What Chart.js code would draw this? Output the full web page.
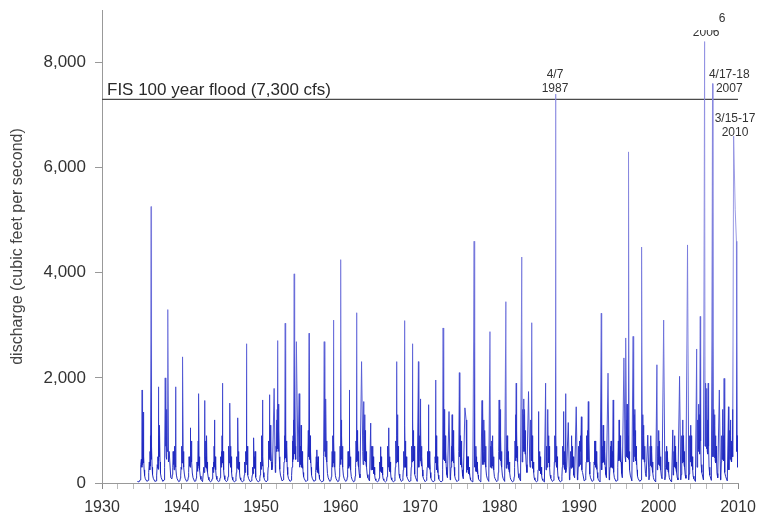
<!DOCTYPE html>
<html>
<head>
<meta charset="utf-8">
<script src="https://cdn.jsdelivr.net/npm/chart.js@4.4.1/dist/chart.umd.min.js"></script>
<style>
  html, body { margin: 0; padding: 0; background: #fff; }
</style>
</head>
<body>
<canvas id="flowChart" width="758" height="518"></canvas>
<script>
// sample times inside each calendar year (fraction of year)
const seasonOffsets = [0.01, 0.04, 0.07, 0.10, 0.13, 0.17, 0.21, 0.25,
  0.30, 0.36, 0.45, 0.65, 0.80, 0.85, 0.90, 0.95];

const years = [
  1934, 1935, 1936, 1937, 1938, 1939, 1940, 1941, 1942, 1943,
  1944, 1945, 1946, 1947, 1948, 1949, 1950, 1951, 1952, 1953,
  1954, 1955, 1956, 1957, 1958, 1959, 1960, 1961, 1962, 1963,
  1964, 1965, 1966, 1967, 1968, 1969, 1970, 1971, 1972, 1973,
  1974, 1975, 1976, 1977, 1978, 1979, 1980, 1981, 1982, 1983,
  1984, 1985, 1986, 1987, 1988, 1989, 1990, 1991, 1992, 1993,
  1994, 1995, 1996, 1997, 1998, 1999, 2000, 2001, 2002, 2003,
  2004, 2005, 2006, 2007, 2008, 2009
];

// discharge in cfs, one row per year, one value per season offset
const discharge = [
  [null, null, null, null, null, null, null, null, null, null, 30, 20, 60, 120, 350, 450],
  [300, 1770, 350, 700, 420, 1350, 380, 500, 250, 140, 80, 30, 50, 120, 200, 400],
  [250, 600, 320, 900, 380, 5260, 450, 700, 300, 160, 90, 30, 40, 100, 150, 350],
  [280, 500, 260, 1830, 420, 900, 500, 1100, 400, 180, 100, 30, 60, 150, 300, 2000],
  [700, 900, 500, 1400, 450, 700, 600, 1200, 3300, 400, 600, 100, 80, 160, 300, 600],
  [350, 400, 250, 700, 300, 500, 350, 1830, 300, 150, 80, 25, 40, 90, 150, 300],
  [260, 700, 380, 1100, 420, 2400, 480, 600, 300, 170, 90, 30, 50, 110, 200, 500],
  [320, 500, 300, 1050, 350, 600, 420, 800, 400, 190, 100, 30, 40, 90, 150, 400],
  [220, 400, 280, 800, 330, 1700, 300, 500, 250, 130, 70, 25, 300, 200, 1570, 500],
  [350, 800, 300, 500, 280, 900, 250, 400, 200, 110, 60, 20, 40, 80, 150, 300],
  [200, 400, 260, 700, 300, 1200, 330, 500, 250, 130, 70, 25, 40, 100, 200, 500],
  [300, 600, 350, 900, 400, 1900, 380, 600, 250, 140, 70, 25, 50, 120, 250, 700],
  [380, 800, 420, 1520, 350, 700, 300, 500, 200, 110, 60, 20, 40, 100, 200, 500],
  [280, 500, 300, 1240, 320, 600, 260, 400, 200, 100, 60, 20, 40, 80, 150, 400],
  [200, 300, 220, 600, 350, 2650, 420, 700, 400, 150, 80, 25, 40, 90, 150, 300],
  [180, 400, 240, 860, 300, 500, 280, 600, 250, 110, 60, 20, 40, 80, 150, 400],
  [260, 700, 380, 900, 400, 1580, 320, 500, 200, 110, 60, 20, 50, 150, 300, 800],
  [450, 1680, 500, 900, 480, 1100, 420, 600, 400, 250, 300, 1800, 200, 350, 700, 1200],
  [600, 1400, 700, 2710, 650, 1500, 600, 1000, 500, 260, 150, 40, 60, 180, 400, 900],
  [450, 3040, 550, 1200, 480, 800, 400, 700, 300, 160, 90, 30, 50, 140, 300, 800],
  [400, 900, 450, 1200, 500, 3980, 550, 1000, 700, 450, 2690, 400, 1700, 300, 500, 700],
  [350, 1100, 380, 700, 300, 600, 280, 400, 200, 120, 80, 25, 50, 150, 400, 1000],
  [500, 2850, 550, 1200, 450, 900, 380, 600, 300, 150, 90, 30, 50, 100, 200, 500],
  [250, 630, 200, 400, 220, 500, 180, 350, 150, 80, 50, 20, 40, 150, 500, 2690],
  [600, 1300, 500, 1000, 550, 1600, 450, 800, 400, 180, 100, 30, 50, 120, 300, 600],
  [300, 900, 380, 3100, 400, 800, 330, 600, 300, 140, 80, 25, 40, 120, 300, 700],
  [350, 4250, 500, 1200, 450, 900, 380, 700, 300, 150, 90, 30, 50, 110, 250, 600],
  [280, 600, 320, 1770, 350, 700, 300, 500, 250, 120, 70, 20, 40, 130, 300, 800],
  [400, 3240, 450, 1000, 420, 800, 350, 600, 300, 170, 100, 2310, 600, 350, 1550, 900],
  [450, 1300, 420, 1000, 400, 800, 350, 600, 300, 160, 100, 40, 1140, 250, 500, 700],
  [300, 700, 250, 500, 220, 400, 180, 300, 150, 80, 50, 20, 40, 90, 200, 400],
  [220, 690, 260, 500, 230, 400, 200, 300, 150, 80, 50, 20, 40, 120, 300, 700],
  [320, 1050, 300, 700, 260, 500, 220, 400, 200, 100, 60, 20, 40, 130, 300, 800],
  [380, 2310, 420, 900, 480, 1300, 400, 700, 400, 170, 100, 30, 50, 110, 250, 600],
  [300, 3090, 420, 1100, 380, 800, 300, 500, 250, 130, 80, 25, 40, 120, 300, 700],
  [400, 2650, 500, 1200, 450, 1000, 420, 700, 350, 170, 100, 30, 2310, 300, 600, 900],
  [420, 1600, 480, 1200, 400, 700, 320, 500, 250, 130, 80, 25, 50, 120, 300, 600],
  [300, 1490, 350, 800, 300, 600, 260, 400, 200, 100, 60, 20, 40, 180, 500, 1960],
  [380, 900, 300, 600, 250, 500, 200, 350, 150, 80, 50, 20, 40, 250, 2950, 1200],
  [450, 1400, 500, 1100, 420, 900, 380, 600, 300, 160, 100, 1360, 60, 130, 300, 700],
  [400, 1300, 420, 900, 450, 1000, 380, 700, 300, 140, 80, 25, 50, 200, 600, 2100],
  [500, 900, 380, 700, 350, 800, 300, 500, 250, 130, 80, 1430, 1200, 200, 300, 500],
  [250, 500, 200, 400, 180, 300, 150, 200, 100, 60, 40, 20, 4600, 300, 600, 400],
  [220, 700, 250, 500, 220, 400, 180, 300, 150, 80, 50, 20, 1570, 350, 1450, 600],
  [350, 1200, 400, 900, 420, 1000, 380, 700, 300, 150, 90, 30, 2880, 300, 700, 500],
  [280, 800, 350, 900, 320, 700, 280, 500, 250, 120, 80, 25, 50, 200, 600, 1580],
  [450, 1200, 500, 1400, 420, 900, 350, 600, 300, 150, 90, 30, 3450, 280, 600, 900],
  [350, 700, 300, 600, 260, 500, 220, 400, 200, 100, 60, 20, 40, 120, 300, 800],
  [420, 1300, 500, 1900, 480, 1000, 420, 700, 400, 180, 100, 40, 4300, 400, 900, 1400],
  [600, 1600, 650, 1300, 600, 1400, 550, 1000, 600, 350, 200, 1740, 400, 300, 900, 1200],
  [500, 3050, 420, 900, 350, 600, 280, 400, 200, 100, 60, 20, 40, 250, 1360, 600],
  [280, 600, 230, 500, 200, 400, 180, 300, 150, 80, 50, 20, 1900, 250, 700, 500],
  [300, 1400, 450, 1200, 420, 900, 380, 700, 300, 150, 90, 30, 50, 140, 400, 900],
  [400, 7400, 450, 900, 350, 700, 300, 500, 250, 120, 70, 20, 40, 130, 300, 700],
  [350, 1360, 380, 800, 300, 600, 260, 400, 1700, 200, 300, 1150, 60, 120, 300, 600],
  [280, 900, 350, 800, 330, 700, 300, 500, 300, 150, 100, 1450, 60, 130, 300, 700],
  [320, 800, 340, 700, 380, 900, 350, 600, 1260, 250, 200, 40, 60, 150, 400, 900],
  [400, 1000, 420, 900, 450, 1550, 400, 800, 400, 170, 100, 30, 50, 150, 400, 800],
  [350, 800, 330, 700, 300, 600, 260, 400, 200, 100, 60, 20, 3230, 250, 500, 700],
  [380, 1100, 420, 900, 400, 800, 350, 600, 300, 160, 100, 2090, 60, 130, 300, 700],
  [300, 800, 330, 700, 300, 600, 280, 500, 1580, 200, 100, 30, 50, 130, 300, 800],
  [420, 1200, 480, 1000, 450, 900, 400, 700, 400, 180, 100, 2380, 500, 400, 2760, 1200],
  [500, 1500, 550, 1200, 480, 900, 450, 6300, 600, 250, 150, 40, 2790, 400, 900, 1300],
  [500, 1400, 480, 1000, 420, 700, 350, 500, 250, 130, 80, 30, 60, 300, 4490, 900],
  [450, 1300, 500, 1100, 450, 900, 400, 700, 400, 180, 120, 910, 60, 130, 300, 700],
  [330, 900, 350, 700, 300, 600, 260, 400, 200, 100, 60, 20, 2250, 250, 500, 700],
  [350, 1000, 380, 800, 330, 700, 300, 500, 250, 130, 80, 3100, 60, 120, 300, 600],
  [260, 700, 280, 600, 250, 500, 220, 400, 200, 100, 60, 20, 1010, 150, 300, 600],
  [300, 900, 330, 700, 280, 600, 250, 400, 200, 100, 60, 2030, 60, 160, 400, 900],
  [380, 1200, 420, 900, 400, 800, 350, 600, 300, 150, 90, 4530, 60, 170, 400, 900],
  [400, 1100, 450, 900, 380, 700, 320, 500, 250, 130, 80, 30, 2550, 300, 600, 1200],
  [600, 1500, 650, 1300, 600, 1100, 550, 3170, 800, 350, 200, 60, 8400, 700, 1900, 1500],
  [700, 1800, 650, 1500, 600, 1200, 550, 1900, 700, 300, 150, 50, 7600, 500, 1000, 1400],
  [500, 1300, 480, 1100, 420, 900, 380, 700, 400, 180, 100, 1770, 60, 150, 400, 900],
  [450, 1400, 500, 1100, 450, 900, 420, 1990, 500, 200, 120, 40, 1450, 250, 600, 1000],
  [450, 1200, 500, 900, 420, 800, 400, 700, 1400, 500, 6600, 5200, 4600, 600, 900, 300]
];

const floodLevel = 7300;
const floodText = 'FIS 100 year flood (7,300 cfs)';

const xTicks = [1930, 1932, 1934, 1936, 1938, 1940, 1942, 1944, 1946, 1948,
  1950, 1952, 1954, 1956, 1958, 1960, 1962, 1964, 1966, 1968,
  1970, 1972, 1974, 1976, 1978, 1980, 1982, 1984, 1986, 1988,
  1990, 1992, 1994, 1996, 1998, 2000, 2002, 2004, 2006, 2008, 2010];
const yTicks = [0, 2000, 4000, 6000, 8000];

// peak annotations: text lines + where they sit (year, cfs of last line)
const peakNotes = [
  { lines: ['4/7', '1987'], year: 1986.98, cfs: 7505 },
  { lines: ['4/17-18', '2007'], year: 2008.9, cfs: 7505 },
  { lines: ['3/15-17', '2010'], year: 2009.62, cfs: 6670 }
];

const flowPoints = [];
years.forEach((yr, i) => {
  discharge[i].forEach((v, j) => {
    if (v !== null) flowPoints.push({ x: yr + seasonOffsets[j], y: v });
  });
});

const fontFamily = '"Liberation Sans", Arial, Helvetica, sans-serif';

// dark blue near the base, paler towards the tips of the spikes
function flowColour(context) {
  const area = context.chart.chartArea;
  if (!area) return 'rgb(40, 50, 200)';
  const g = context.chart.ctx.createLinearGradient(0, area.bottom, 0, area.top);
  g.addColorStop(0, 'rgba(20, 30, 185, 0.95)');
  g.addColorStop(0.12, 'rgba(40, 50, 200, 0.85)');
  g.addColorStop(0.3, 'rgba(90, 95, 215, 0.75)');
  g.addColorStop(0.6, 'rgba(125, 125, 220, 0.75)');
  g.addColorStop(1, 'rgba(140, 140, 225, 0.75)');
  return g;
}

const notesPlugin = {
  id: 'notes',
  afterDatasetsDraw(chart) {
    const c = chart.ctx;
    const xs = chart.scales.x;
    const ys = chart.scales.y;
    c.save();
    // flood line label
    c.fillStyle = '#2a2a2a';
    c.font = '17px ' + fontFamily;
    c.textAlign = 'left';
    c.textBaseline = 'alphabetic';
    c.fillText(floodText, xs.left + 5, ys.getPixelForValue(floodLevel) - 4);

    // peak labels
    c.font = '12px ' + fontFamily;
    c.fillStyle = '#333';
    c.textAlign = 'center';
    c.textBaseline = 'middle';
    peakNotes.forEach(n => {
      const px = xs.getPixelForValue(n.year);
      const py = ys.getPixelForValue(n.cfs);
      n.lines.forEach((t, k) => {
        c.fillText(t, px, py - (n.lines.length - 1 - k) * 14);
      });
    });

    // 2006 label, cut off at the top of the picture
    c.fillText('6', xs.getPixelForValue(2008.0), ys.getPixelForValue(8840));
    c.beginPath();
    c.rect(0, 30, chart.width, 20);
    c.clip();
    c.fillText('2006', xs.getPixelForValue(2006.0), ys.getPixelForValue(8570));
    c.restore();
  }
};

const ctx = document.getElementById('flowChart');

new Chart(ctx, {
  type: 'line',
  data: {
    datasets: [{
      label: 'discharge',
      data: flowPoints,
      borderColor: flowColour,
      borderWidth: 1,
      pointRadius: 0,
      tension: 0
    }, {
      label: 'flood',
      data: [{ x: 1930, y: floodLevel }, { x: 2010, y: floodLevel }],
      borderColor: '#4a4a4a',
      borderWidth: 1.2,
      pointRadius: 0
    }]
  },
  options: {
    responsive: false,
    animation: false,
    layout: { padding: { top: 10, right: 20, left: 0, bottom: 0 } },
    plugins: {
      legend: { display: false },
      tooltip: { enabled: false }
    },
    scales: {
      x: {
        type: 'linear',
        min: 1930,
        max: 2010,
        afterBuildTicks: s => { s.ticks = xTicks.map(v => ({ value: v })); },
        afterFit: s => { s.height = 35; s.paddingLeft = 0; s.paddingRight = 0; },
        border: { color: '#999', width: 1 },
        grid: {
          drawOnChartArea: false,
          tickLength: 6,
          tickColor: c => (c.tick && c.tick.value % 10 === 0 ? '#888' : '#bbb')
        },
        ticks: {
          autoSkip: false,
          maxRotation: 0,
          padding: 9,
          color: '#333',
          font: { family: fontFamily, size: 16 },
          callback: v => (v % 10 === 0 ? String(v) : '')
        }
      },
      y: {
        min: 0,
        max: 9000,
        afterBuildTicks: s => { s.ticks = yTicks.map(v => ({ value: v })); },
        afterFit: s => { s.width = 102; s.paddingTop = 0; s.paddingBottom = 0; },
        border: { color: '#999', width: 1 },
        grid: { drawOnChartArea: false, tickLength: 7, tickColor: '#999' },
        ticks: {
          padding: 9,
          color: '#333',
          font: { family: fontFamily, size: 17 },
          callback: v => v.toLocaleString('en-US')
        },
        title: {
          display: true,
          text: 'discharge (cubic feet per second)',
          color: '#444',
          font: { family: fontFamily, size: 16 },
          padding: { top: 8, bottom: 0 }
        }
      }
    }
  },
  plugins: [notesPlugin]
});
</script>
</body>
</html>
